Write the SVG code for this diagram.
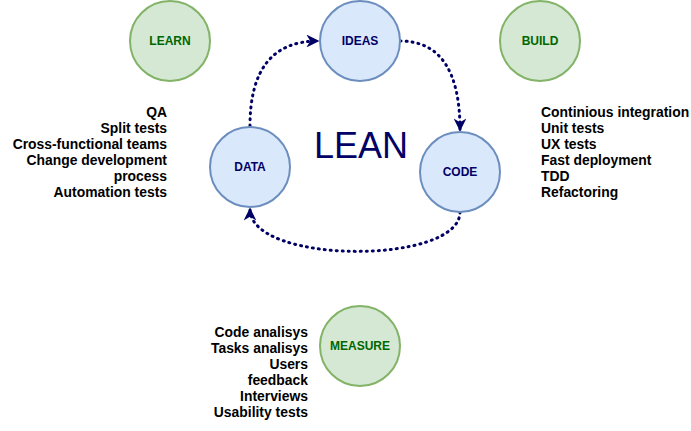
<svg xmlns="http://www.w3.org/2000/svg" width="691" height="431" viewBox="0 0 691 431">
<defs>
<style>
.g{fill:#d5e8d4;stroke:#82b366;stroke-width:2}
.b{fill:#dae8fc;stroke:#6c8ebf;stroke-width:2}
.lbl{font-family:"Liberation Sans",Arial,sans-serif;font-size:12px;font-weight:bold;text-anchor:middle}
.lg{fill:#006600}
.lb{fill:#000066}
.t{font-family:"Liberation Sans",Arial,sans-serif;font-size:13.9px;font-weight:bold;fill:#000000}
.r{text-anchor:end}
.c{fill:none;stroke:#000066;stroke-width:3;stroke-dasharray:1 5;stroke-linecap:round}
</style>
<marker id="ar" viewBox="0 0 10 10" refX="9" refY="5" markerWidth="4.3" markerHeight="4.3" markerUnits="strokeWidth" orient="auto">
<path d="M0 0 L10 5 L0 10 L3 5 Z" fill="#000066"/>
</marker>
</defs>
<rect width="691" height="431" fill="#ffffff"/>
<g id="connectors">
<path class="c" d="M250 126 Q250 41 318 41" marker-end="url(#ar)"/>
<path class="c" d="M400 41 Q460 41 460 130" marker-end="url(#ar)"/>
<path class="c" d="M460 212 C460 265 250 265 250 209" marker-end="url(#ar)"/>
</g>
<g id="learn"><circle class="g" cx="170" cy="41" r="40"/><text class="lbl lg" x="170" y="45">LEARN</text></g>
<g id="ideas"><circle class="b" cx="360" cy="41" r="40"/><text class="lbl lb" x="360" y="45">IDEAS</text></g>
<g id="build"><circle class="g" cx="540" cy="41" r="40"/><text class="lbl lg" x="540" y="45">BUILD</text></g>
<g id="data"><circle class="b" cx="250" cy="167" r="40"/><text class="lbl lb" x="250" y="171">DATA</text></g>
<g id="code"><circle class="b" cx="460" cy="172" r="40"/><text class="lbl lb" x="460" y="176">CODE</text></g>
<g id="measure"><circle class="g" cx="360" cy="346" r="40"/><text class="lbl lg" x="360" y="350">MEASURE</text></g>
<g id="lean"><text x="361" y="158" font-family="'Liberation Sans',Arial,sans-serif" font-size="36" fill="#000066" text-anchor="middle">LEAN</text></g>
<g id="learn-list">
<text class="t r" x="167" y="117">QA</text>
<text class="t r" x="167" y="133">Split tests</text>
<text class="t r" x="167" y="149">Cross-functional teams</text>
<text class="t r" x="167" y="165">Change development</text>
<text class="t r" x="167" y="181">process</text>
<text class="t r" x="167" y="197">Automation tests</text>
</g>
<g id="build-list">
<text class="t" x="541" y="117">Continious integration</text>
<text class="t" x="541" y="133">Unit tests</text>
<text class="t" x="541" y="149">UX tests</text>
<text class="t" x="541" y="165">Fast deployment</text>
<text class="t" x="541" y="181">TDD</text>
<text class="t" x="541" y="197">Refactoring</text>
</g>
<g id="measure-list">
<text class="t r" x="308" y="337">Code analisys</text>
<text class="t r" x="308" y="353">Tasks analisys</text>
<text class="t r" x="308" y="369">Users</text>
<text class="t r" x="308" y="385">feedback</text>
<text class="t r" x="308" y="401">Interviews</text>
<text class="t r" x="308" y="417">Usability tests</text>
</g>
</svg>
